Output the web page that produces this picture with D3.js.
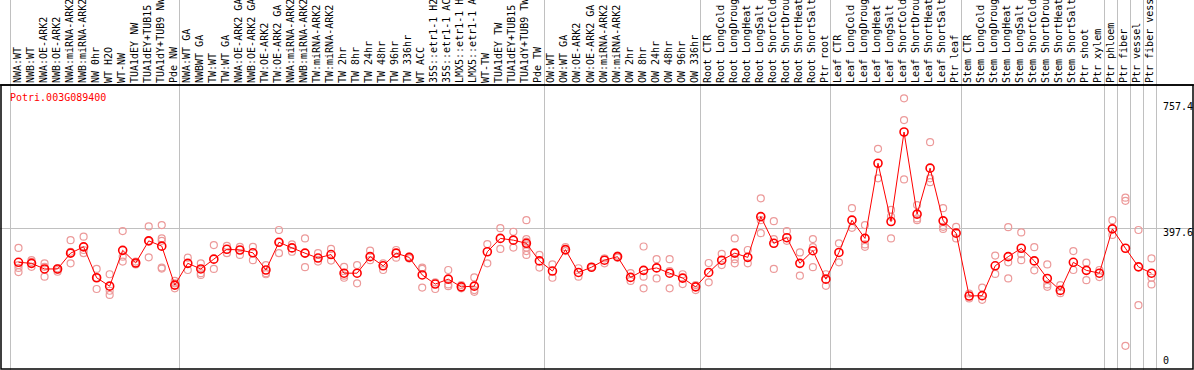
<!DOCTYPE html>
<html>
<head>
<meta charset="utf-8">
<script src="https://d3js.org/d3.v7.min.js"></script>
<style>
body { margin: 0; background: #fff; }
svg text { font-family: "DejaVu Sans Mono", monospace; font-size: 10px; }
.sep { stroke: #c0c0c0; stroke-width: 1; }
.frame { stroke: #000; stroke-width: 1.5; fill: none; }
</style>
<title>Potri.003G089400</title>
</head>
<body>
<svg width="1194" height="370"></svg>
<script>

var geneName = "Potri.003G089400";

var sampleLabels = [
  "NWA:WT", "NWB:WT", "NWA:OE-ARK2", "NWB:OE-ARK2", "NWA:miRNA-ARK2", "NWB:miRNA-ARK2",
  "NW 0hr", "WT H2O", "WT-NW", "TUA1dEY NW", "TUA1dEY+TUB15 NW", "TUA1dY+TUB9 NW", "Pde NW",
  "NWA:WT GA", "NWBWT GA", "TW:WT", "TW:WT GA", "NWA:OE-ARK2 GA", "NWB:OE-ARK2 GA",
  "TW:OE-ARK2", "TW:OE-ARK2 GA", "NWA:miRNA-ARK2 GA", "NWB:miRNA-ARK2 GA", "TW:miRNA-ARK2",
  "TW:miRNA-ARK2 GA", "TW 2hr", "TW 8hr", "TW 24hr", "TW 48hr", "TW 96hr", "TW 336hr",
  "WT ACC", "35S::etr1-1 H2O", "35S::etr1-1 ACC", "LMX5::etr1-1 H2O", "LMX5::etr1-1 ACC",
  "WT-TW", "TUA1dEY TW", "TUA1dEY+TUB15 TW", "TUA1dY+TUB9 TW", "Pde TW",
  "OW:WT", "OW:WT GA", "OW:OE-ARK2", "OW:OE-ARK2 GA", "OW:miRNA-ARK2", "OW:miRNA-ARK2 GA",
  "OW 2hr", "OW 8hr", "OW 24hr", "OW 48hr", "OW 96hr", "OW 336hr",
  "Root CTR", "Root LongCold", "Root LongDrought", "Root LongHeat", "Root LongSalt",
  "Root ShortCold", "Root ShortDrought", "Root ShortHeat", "Root ShortSalt", "Ptr root",
  "Leaf CTR", "Leaf LongCold", "Leaf LongDrought", "Leaf LongHeat", "Leaf LongSalt",
  "Leaf ShortCold", "Leaf ShortDrought", "Leaf ShortHeat", "Leaf ShortSalt", "Ptr leaf",
  "Stem CTR", "Stem LongCold", "Stem LongDrought", "Stem LongHeat", "Stem LongSalt",
  "Stem ShortCold", "Stem ShortDrought", "Stem ShortHeat", "Stem ShortSalt", "Ptr shoot", "Ptr xylem",
  "Ptr phloem", "Ptr fiber", "Ptr vessel", "Ptr fiber vessel"
];

// column indexes where a new group starts (gray separators)
var groupBreaks = [0, 13, 41, 53, 63, 73, 84, 85, 86, 87, 88];

var meanValues = [
  301, 298, 282, 282, 327, 345, 257, 233, 335, 299, 362, 347, 236,
  298, 282, 310, 338, 336, 328, 279, 358, 342, 327, 313, 323, 270, 270, 317, 291, 327, 315,
  265, 239, 253, 231, 233, 331, 369, 364, 355, 305,
  276, 337, 272, 287, 307, 317, 258, 278, 285, 270, 256, 231,
  272, 307, 327, 315, 431, 355, 371, 298, 334, 253,
  329, 421, 369, 583, 417, 672, 438, 569, 419, 384,
  205, 206, 291, 317, 341, 305, 255, 221, 301, 278, 270,
  396, 341, 288, 270
];

var replicateValues = [
  [342, 293, 285, 273], [307, 302, 288], [298, 288, 260], [284, 279, 274],
  [364, 331, 298], [374, 336, 327], [282, 257, 225], [267, 220, 208],
  [390, 317, 303], [303, 298, 295], [403, 362, 315], [407, 369, 362, 286, 283], [248, 241, 227],
  [314, 279], [298, 270, 265], [350, 282], [348, 327], [345, 322], [345, 307],
  [293, 270, 267], [393, 358, 327], [352, 331], [369, 287], [327, 303], [339, 306],
  [288, 263, 257], [293, 241], [334, 307], [298, 279], [336, 314], [317, 312],
  [286, 282, 229], [244, 225], [279, 238, 233], [236, 227], [258, 222, 217],
  [353, 298], [398, 339], [388, 343], [421, 367, 360, 352, 343, 333, 322], [322, 286],
  [295, 257], [344, 333], [284, 260], [288, 285], [312, 298], [320, 314],
  [270, 248], [346, 260, 227], [310, 255], [310, 276, 227], [267, 239], [236, 222],
  [299, 244], [325, 293], [369, 310, 298], [336, 298], [483, 421, 384],
  [418, 367, 282], [390, 362], [329, 263], [367, 344, 287], [267, 234],
  [355, 301], [455, 399], [407, 352, 345], [624, 540], [450, 431, 369],
  [768, 706, 537], [464, 426, 421], [643, 540, 529], [455, 402, 396], [402, 369],
  [212, 198], [229, 194], [320, 268], [401, 301, 255], [386, 324, 307],
  [344, 278], [295, 238, 231], [236, 213], [333, 279], [300, 250], [279, 259],
  [421, 379], [485, 476, 63], [393, 179], [312, 257, 238]
];

var axisTicks = [0, 397.6, 757.4];

var svg = d3.select("svg"),
    W = +svg.attr("width"),
    H = +svg.attr("height"),
    plotTop = 85, plotBottom = 368;

var x = d3.scaleLinear().domain([0, sampleLabels.length]).range([10, 1156]);
var y = d3.scaleLinear().domain([0, 757.4]).range([plotBottom, 102]);

// separators
svg.selectAll(".sep.v").data(groupBreaks).enter().append("line")
    .attr("class", "sep v")
    .attr("x1", function(d) { return Math.round(x(d)) + 0.5; })
    .attr("x2", function(d) { return Math.round(x(d)) + 0.5; })
    .attr("y1", 0).attr("y2", H);

svg.append("line").attr("class", "sep")
    .attr("x1", 0).attr("x2", W)
    .attr("y1", Math.round(y(397.6)) + 0.5).attr("y2", Math.round(y(397.6)) + 0.5);

// rotated sample labels
svg.append("g").selectAll("text").data(sampleLabels).enter().append("text")
    .attr("transform", function(d, i) { return "translate(" + (x(i) + 10.5) + ",83) rotate(-90)"; })
    .attr("fill", "#000")
    .text(function(d) { return d; });

// frame
svg.append("line").attr("x1", 0).attr("x2", W).attr("y1", plotTop).attr("y2", plotTop)
    .attr("stroke", "#000").attr("stroke-width", 1.5);
svg.append("rect").attr("class", "frame")
    .attr("x", 1).attr("y", plotTop).attr("width", W - 2).attr("height", H - plotTop - 1);

svg.append("text").attr("x", 10).attr("y", 101).attr("fill", "#ff0000").text(geneName);

// right axis labels
svg.selectAll(".tick").data(axisTicks).enter().append("text")
    .attr("x", 1163)
    .attr("y", function(d) { return d === 0 ? y(d) - 4 : y(d) + 8; })
    .attr("fill", "#000")
    .text(function(d) { return d === 0 ? "0" : d3.format(".1f")(d); });

// replicate points
var reps = [];
replicateValues.forEach(function(arr, i) {
  arr.forEach(function(v) { reps.push({i: i, v: v}); });
});
svg.append("g").selectAll("circle").data(reps).enter().append("circle")
    .attr("cx", function(d) { return x(d.i) + 8.5; })
    .attr("cy", function(d) { return y(d.v); })
    .attr("r", 3.5)
    .attr("fill", "none")
    .attr("stroke", "#ec9a9a")
    .attr("stroke-width", 1.2);

// mean line
var line = d3.line()
    .x(function(d, i) { return x(i) + 8.5; })
    .y(function(d) { return y(d); });

svg.append("path").datum(meanValues)
    .attr("d", line)
    .attr("fill", "none")
    .attr("stroke", "#ff0000")
    .attr("stroke-width", 1);

svg.append("g").selectAll("circle").data(meanValues).enter().append("circle")
    .attr("cx", function(d, i) { return x(i) + 8.5; })
    .attr("cy", function(d) { return y(d); })
    .attr("r", 4)
    .attr("fill", "none")
    .attr("stroke", "#ff0000")
    .attr("stroke-width", 1.6);

</script>
</body>
</html>
